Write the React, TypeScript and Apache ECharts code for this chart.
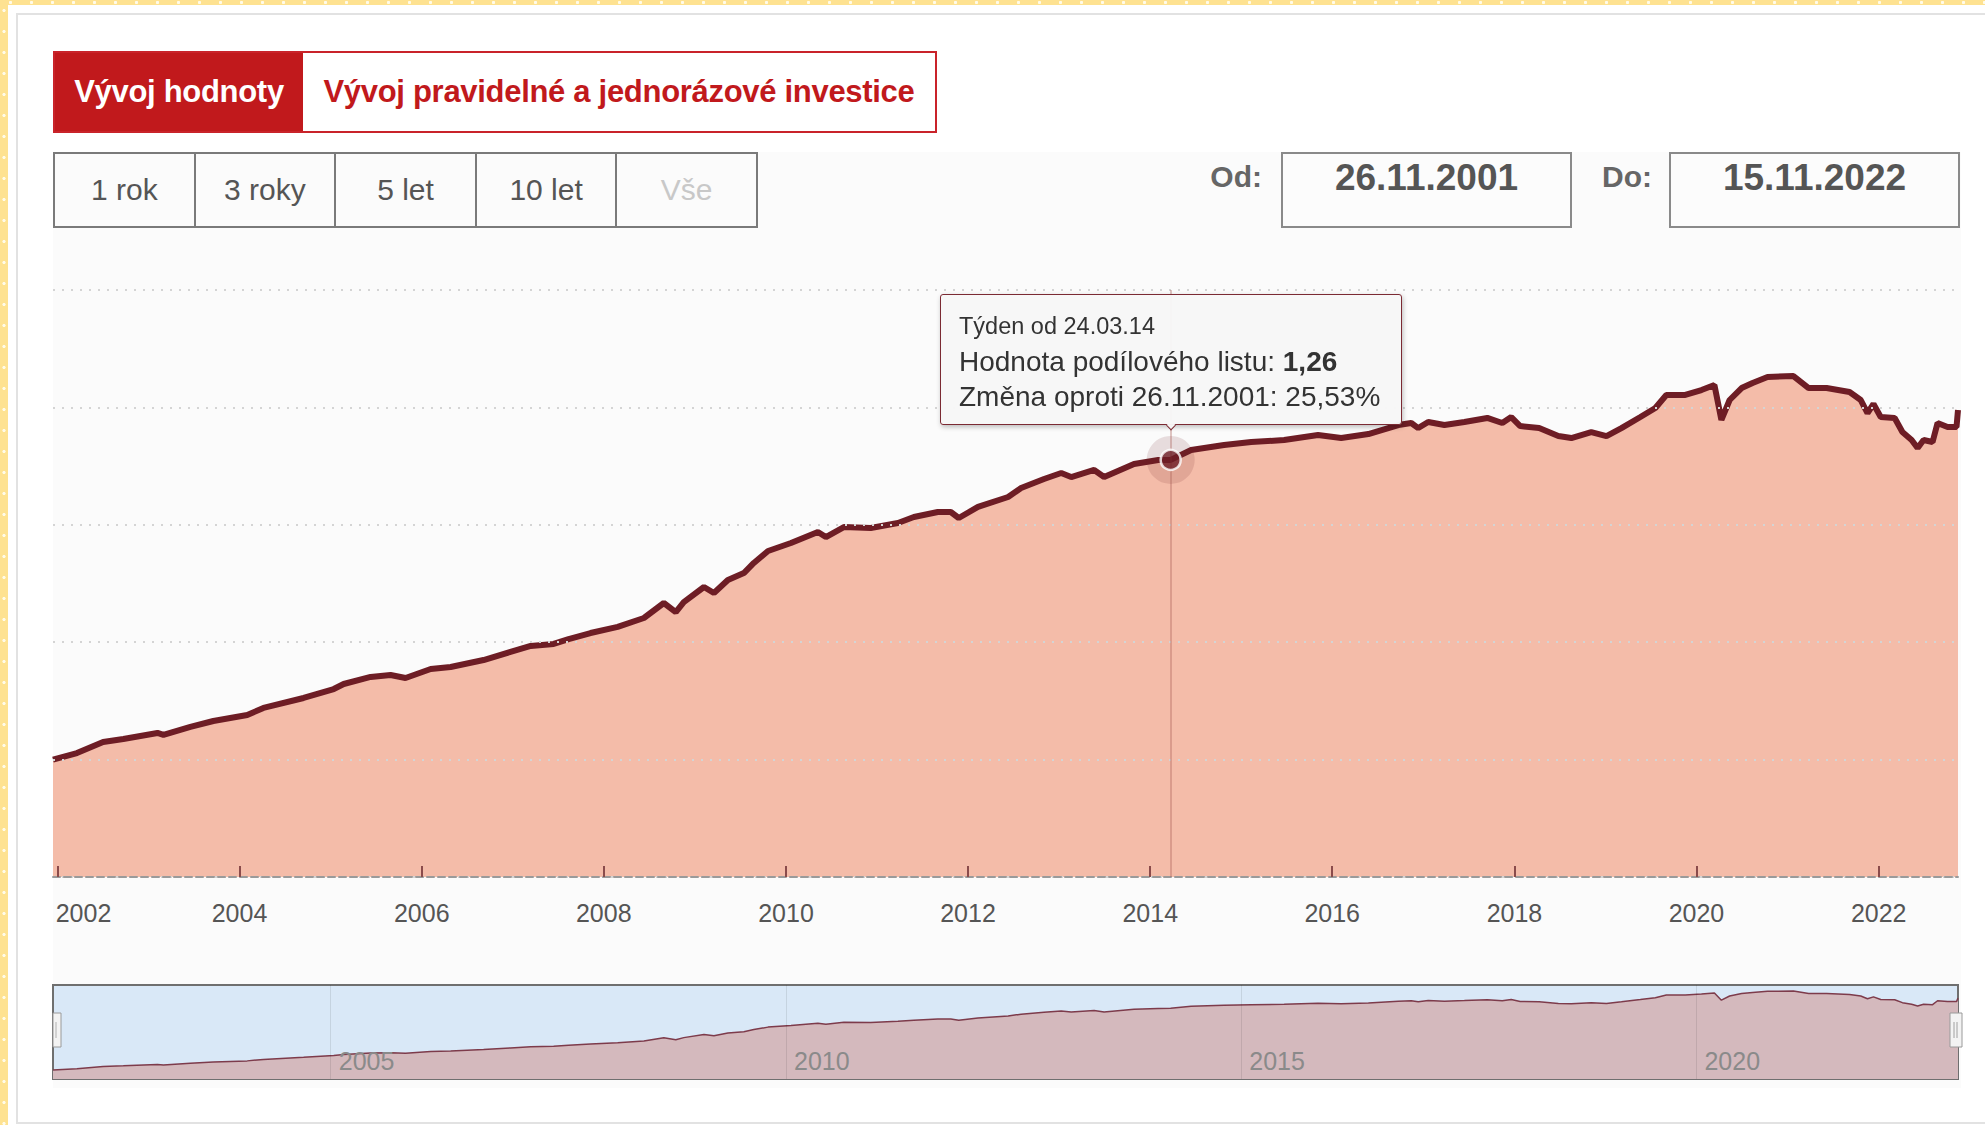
import React, { useEffect, useRef } from "react";
import * as echarts from "echarts";

// ---- data ----
const dates = [
  "2001-12-14","2002-03-20","2002-07-03","2002-09-22","2003-02-06","2003-03-02","2003-06-18","2003-09-18","2004-02-01","2004-04-06",
  "2004-09-14","2005-01-13","2005-02-22","2005-06-10","2005-08-29","2005-10-28","2006-02-06","2006-04-27","2006-09-06","2006-12-23",
  "2007-03-14","2007-06-14","2007-08-13","2007-11-09","2008-02-26","2008-06-10","2008-08-29","2008-10-16","2008-11-17","2009-02-06",
  "2009-03-18","2009-05-13","2009-07-16","2009-08-25","2009-10-21","2010-01-21","2010-05-09","2010-06-10","2010-08-21","2010-12-07",
  "2011-03-26","2011-05-29","2011-09-02","2011-10-24","2011-11-25","2012-02-10","2012-06-10","2012-08-01","2012-11-01","2013-01-09",
  "2013-02-18","2013-05-21","2013-06-30","2013-10-28","2014-02-02","2014-03-24","2014-06-14","2014-10-24","2015-02-10","2015-06-22",
  "2015-11-05","2016-02-06","2016-05-25","2016-09-22","2016-11-13","2016-12-11","2017-01-20","2017-03-26","2017-06-14","2017-09-14",
  "2017-11-13","2017-12-19","2018-01-24","2018-04-10","2018-06-26","2018-08-17","2018-11-05","2019-01-05","2019-03-06","2019-05-21",
  "2019-07-20","2019-09-02","2019-11-17","2020-01-21","2020-03-13","2020-04-10","2020-05-13","2020-06-30","2020-08-13","2020-10-12",
  "2021-01-24","2021-03-26","2021-06-06","2021-09-06","2021-10-21","2021-11-17","2021-12-11","2022-01-09","2022-03-06","2022-04-06",
  "2022-05-13","2022-06-06","2022-06-30","2022-08-05","2022-08-25","2022-10-04","2022-11-09","2022-11-15",
];

const values = [
  1.000, 1.0056, 1.015, 1.0175, 1.0227, 1.021, 1.0278, 1.0329, 1.038, 1.044,
  1.0525, 1.0601, 1.0644, 1.0704, 1.0721, 1.0695, 1.0772, 1.0789, 1.0848, 1.0917,
  1.0968, 1.0985, 1.1027, 1.1078, 1.113, 1.1206, 1.1334, 1.1257, 1.1342, 1.147,
  1.1419, 1.153, 1.1589, 1.1675, 1.1777, 1.1845, 1.1939, 1.1896, 1.1981, 1.1973,
  1.2015, 1.2066, 1.2109, 1.2109, 1.2058, 1.2152, 1.2237, 1.2313, 1.239, 1.2441,
  1.2407, 1.2467, 1.2407, 1.2518, 1.2552, 1.2553, 1.2637, 1.268, 1.2705, 1.2722,
  1.2765, 1.2739, 1.2773, 1.285, 1.2867, 1.2824, 1.2876, 1.285, 1.2876, 1.291,
  1.2867, 1.2918, 1.2841, 1.2824, 1.2756, 1.2739, 1.279, 1.2756, 1.2824, 1.2918,
  1.2995, 1.3106, 1.3106, 1.3148, 1.3191, 1.2893, 1.3063, 1.3165, 1.3208, 1.3259,
  1.3267, 1.3165, 1.3165, 1.3131, 1.3063, 1.2952, 1.3029, 1.2918, 1.291, 1.279,
  1.2722, 1.2654, 1.2722, 1.2705, 1.2867, 1.2833, 1.2833, 1.2978,
];

const mainTickYears = [2002, 2004, 2006, 2008, 2010, 2012, 2014, 2016, 2018, 2020, 2022];
const navTickYears = [2005, 2010, 2015, 2020];

const baseValue = 1.0;
const fromLabel = "26.11.2001";
const toLabel = "15.11.2022";
const hoverDate = "2014-03-24";
const hoverDateLabel = "24.03.14";
const hoverValue = 1.2553;

const rangeButtons = ["1 rok", "3 roky", "5 let", "10 let", "Vše"];
const tabs = ["Vývoj hodnoty", "Vývoj pravidelné a jednorázové investice"];

const FONT = '"Liberation Sans", Arial, Helvetica, sans-serif';

const ts = (d: string) => Date.parse(d);
const yearTs = (y: number) => Date.UTC(y, 0, 1);

export default function App() {
  const ref = useRef<HTMLDivElement>(null);

  useEffect(() => {
    if (!ref.current) return;
    const chart = echarts.init(ref.current, null, { renderer: "svg" });
    const seriesData = dates.map((d, i) => [ts(d), values[i]]);
    const tMin = ts(dates[0]);
    const tMax = ts(dates[dates.length - 1]);
    const mainTicks = mainTickYears.map(yearTs);
    const navTicks = navTickYears.map(yearTs);

    const fmtNum = (v: number) => v.toFixed(2).replace(".", ",");
    const change = ((hoverValue / baseValue - 1) * 100).toFixed(2).replace(".", ",");
    const tipHtml =
      `<div style="font-family:${FONT.replace(/"/g, "'")};color:#333;line-height:35px;">` +
      `<div style="font-size:23.5px;">Týden od ${hoverDateLabel}</div>` +
      `<div style="font-size:28px;">Hodnota podílového listu: <b>${fmtNum(hoverValue)}</b></div>` +
      `<div style="font-size:28px;">Změna oproti ${fromLabel}: ${change}%</div>` +
      `</div>`;

    const option: any = {
      animation: false,
      textStyle: { fontFamily: FONT },
      grid: [
        { left: 53, right: 27, top: 290, bottom: 248 },
        {
          left: 53, right: 27, top: 985, bottom: 46, show: true,
          backgroundColor: "#d9e8f7", borderColor: "#6f6f6f", borderWidth: 2,
        },
      ],
      xAxis: [
        {
          type: "value", gridIndex: 0, min: tMin, max: tMax, z: 4,
          axisLine: { show: true, onZero: false, lineStyle: { color: "#9a9a9a", width: 2, type: [7, 4] } },
          axisTick: { show: true, inside: true, length: 11, customValues: mainTicks, lineStyle: { color: "#8a4b4b", width: 2 } },
          axisLabel: {
            customValues: mainTicks, fontSize: 25, color: "#555", margin: 23, fontFamily: FONT,
            formatter: (v: number) => {
              const y = new Date(v).getUTCFullYear();
              return y === mainTickYears[0] ? `{first|${y}}` : String(y);
            },
            rich: { first: { padding: [0, 0, 0, 52], fontSize: 25, color: "#555", fontFamily: FONT } },
          },
          splitLine: { show: false },
        },
        {
          type: "value", gridIndex: 1, min: tMin, max: tMax, z: 6,
          axisLine: { show: false },
          axisTick: { show: false, customValues: navTicks },
          axisLabel: {
            show: true, customValues: navTicks, inside: true, align: "left", padding: [0, 0, 0, 8], margin: 6,
            fontSize: 25, color: "#8a8a8a", fontFamily: FONT,
            formatter: (v: number) => String(new Date(v).getUTCFullYear()),
          },
          splitLine: { show: true, lineStyle: { color: "rgba(0,0,0,0.09)", width: 1 } },
        },
      ],
      yAxis: [
        {
          type: "value", gridIndex: 0, min: 0.9, max: 1.4, interval: 0.1, z: 3,
          axisLabel: { show: false }, axisLine: { show: false }, axisTick: { show: false },
          splitLine: { show: true, lineStyle: { color: "#d4d4d4", width: 2, type: [2, 7] } },
        },
        {
          type: "value", gridIndex: 1, min: 0.963, max: 1.352,
          axisLabel: { show: false }, axisLine: { show: false }, axisTick: { show: false },
          splitLine: { show: false },
        },
      ],
      tooltip: {
        trigger: "item", triggerOn: "none", alwaysShowContent: true, position: "top",
        backgroundColor: "rgba(247,247,247,0.97)", borderColor: "#7b2a33", borderWidth: 1.5,
        borderRadius: 3, padding: [14, 21, 10, 18], transitionDuration: 0,
        extraCssText: "box-shadow: 1px 2px 5px rgba(0,0,0,0.25);",
        formatter: () => tipHtml,
      },
      series: [
        {
          type: "line", xAxisIndex: 0, yAxisIndex: 0, data: seriesData, showSymbol: false,
          lineStyle: { color: "#6e1d25", width: 6 }, areaStyle: { color: "#f4bca9", opacity: 1 },
          silent: true, tooltip: { show: false }, z: 2,
          markLine: {
            silent: true, symbol: ["none", "none"], label: { show: false },
            lineStyle: { color: "rgba(170,95,85,0.35)", width: 2, type: "solid" },
            data: [{ xAxis: ts(hoverDate) }],
          },
        },
        {
          type: "line", xAxisIndex: 1, yAxisIndex: 1, data: seriesData, showSymbol: false,
          lineStyle: { color: "#7d3b4b", width: 1.5 }, areaStyle: { color: "#d4b9bd", opacity: 1 },
          silent: true, tooltip: { show: false }, z: 2,
        },
        {
          type: "scatter", xAxisIndex: 0, yAxisIndex: 0, data: [[ts(hoverDate), hoverValue]],
          symbolSize: 48, itemStyle: { color: "rgba(110,29,37,0.17)" }, z: 4,
          emphasis: { disabled: true },
        },
        {
          type: "scatter", xAxisIndex: 0, yAxisIndex: 0, data: [[ts(hoverDate), hoverValue]],
          symbolSize: 20, itemStyle: { color: "#6e1d25", borderColor: "#ffffff", borderWidth: 2.5 }, z: 5,
          silent: true, tooltip: { show: false }, emphasis: { disabled: true },
        },
      ],
      graphic: [
        { type: "rect", x: 53, y: 1013, shape: { x: 0, y: 0, width: 8, height: 34 }, style: { fill: "#f3f3f3", stroke: "#9a9a9a", lineWidth: 1 }, z: 10 },
        { type: "line", shape: { x1: 56, y1: 1022, x2: 56, y2: 1038 }, style: { stroke: "#b0b0b0", lineWidth: 1 }, z: 11 },
        { type: "rect", x: 1950, y: 1013, shape: { x: 0, y: 0, width: 12, height: 34 }, style: { fill: "#f3f3f3", stroke: "#9a9a9a", lineWidth: 1 }, z: 10 },
        { type: "line", shape: { x1: 1954, y1: 1022, x2: 1954, y2: 1038 }, style: { stroke: "#a0a0a0", lineWidth: 1 }, z: 11 },
        { type: "line", shape: { x1: 1957, y1: 1022, x2: 1957, y2: 1038 }, style: { stroke: "#a0a0a0", lineWidth: 1 }, z: 11 },
      ],
    };

    chart.setOption(option);
    chart.dispatchAction({ type: "showTip", seriesIndex: 2, dataIndex: 0 });
    return () => chart.dispose();
  }, []);

  const yellowTop: React.CSSProperties = {
    position: "absolute", left: 0, top: 0, width: 1985, height: 5, backgroundColor: "#fee291",
    backgroundImage: "radial-gradient(circle at center, #fffbe9 1.3px, transparent 1.9px)",
    backgroundSize: "21px 5px",
  };
  const yellowLeft: React.CSSProperties = {
    position: "absolute", left: 0, top: 0, width: 8, height: 1125, backgroundColor: "#fee291",
    backgroundImage: "radial-gradient(circle at center, #fffbe9 1.3px, transparent 1.9px)",
    backgroundSize: "8px 21px",
  };

  return (
    <div style={{ position: "fixed", left: 0, top: 0, width: 1985, height: 1125, background: "#fff", overflow: "hidden", fontFamily: FONT }}>
      <div style={yellowTop} />
      <div style={yellowLeft} />
      <div style={{ position: "absolute", left: 16, top: 13, width: 1985, height: 1111, borderTop: "2px solid #e2e2e2", borderLeft: "2px solid #e2e2e2", borderBottom: "2px solid #e2e2e2", boxSizing: "border-box" }} />
      <div style={{ position: "absolute", left: 53, top: 152, width: 1908, height: 936, background: "#fbfbfb" }} />

      {/* tabs */}
      <div style={{ position: "absolute", left: 53, top: 51, width: 884, height: 82, border: "2px solid #c9232a", boxSizing: "border-box", display: "flex", background: "#fff" }}>
        <div style={{ width: 248, height: "100%", background: "#c1191c", color: "#fff", fontWeight: "bold", fontSize: 31, display: "flex", alignItems: "center", justifyContent: "center", whiteSpace: "nowrap", letterSpacing: -0.3 }}>{tabs[0]}</div>
        <div style={{ flex: 1, height: "100%", color: "#c1191c", fontWeight: "bold", fontSize: 31, display: "flex", alignItems: "center", justifyContent: "center", whiteSpace: "nowrap", letterSpacing: -0.3 }}>{tabs[1]}</div>
      </div>

      <div ref={ref} style={{ position: "absolute", left: 0, top: 0, width: 1985, height: 1125 }} />

      {/* range buttons */}
      {rangeButtons.map((b, i) => (
        <div key={b} style={{ position: "absolute", left: 53 + i * 140.6, top: 152, width: 142.6, height: 76, border: "2px solid #7a7a7a", boxSizing: "border-box", background: "#fbfbfb", display: "flex", alignItems: "center", justifyContent: "center", fontSize: 30, color: i === rangeButtons.length - 1 ? "#c8c8c8" : "#555", whiteSpace: "nowrap" }}>{b}</div>
      ))}

      {/* date range inputs */}
      <div style={{ position: "absolute", left: 1190, top: 152, width: 72, height: 50, lineHeight: "50px", textAlign: "right", fontSize: 30, fontWeight: "bold", color: "#666" }}>Od:</div>
      <div style={{ position: "absolute", left: 1281, top: 152, width: 291, height: 76, border: "2px solid #8a8a8a", boxSizing: "border-box", background: "#fcfcfc", textAlign: "center", lineHeight: "48px", fontSize: 37, fontWeight: "bold", color: "#555" }}>{fromLabel}</div>
      <div style={{ position: "absolute", left: 1580, top: 152, width: 72, height: 50, lineHeight: "50px", textAlign: "right", fontSize: 30, fontWeight: "bold", color: "#666" }}>Do:</div>
      <div style={{ position: "absolute", left: 1669, top: 152, width: 291, height: 76, border: "2px solid #8a8a8a", boxSizing: "border-box", background: "#fcfcfc", textAlign: "center", lineHeight: "48px", fontSize: 37, fontWeight: "bold", color: "#555" }}>{toLabel}</div>
    </div>
  );
}
